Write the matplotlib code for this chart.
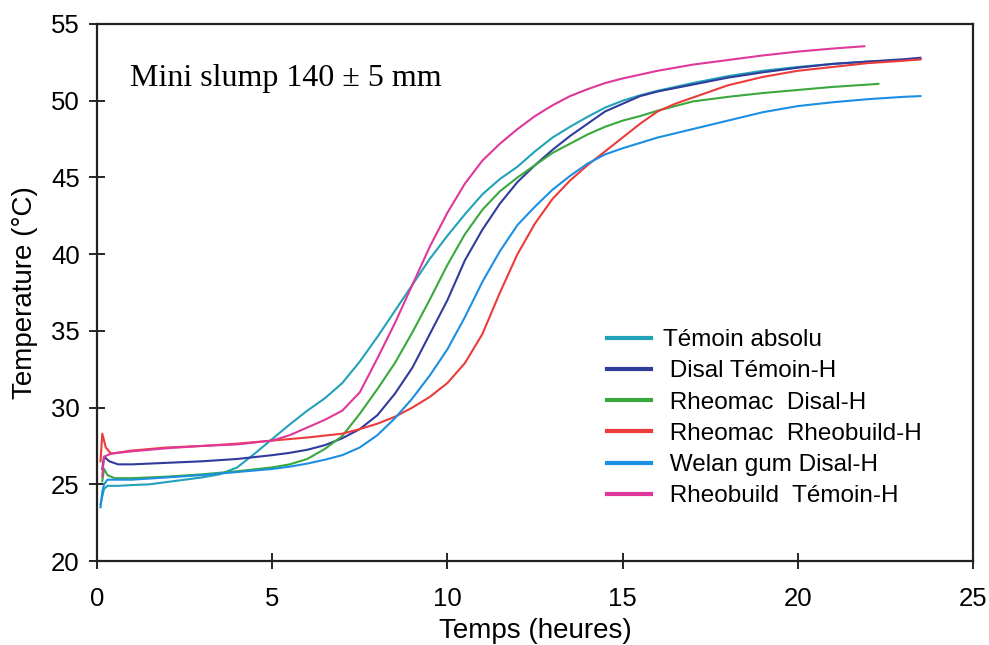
import matplotlib
matplotlib.use("Agg")
import matplotlib.pyplot as plt

plt.rcParams['font.family'] = ['Liberation Sans', 'DejaVu Sans']

# Hydration temperature curves (time in hours, temperature in °C)
t_temoin = [0.1, 0.2, 0.3, 0.6, 1.0, 1.5, 2.0, 2.5, 3.0, 3.5, 4.0, 4.5, 5.0, 5.5, 6.0, 6.5,
            7.0, 7.5, 8.0, 8.5, 9.0, 9.5, 10.0, 10.5, 11.0, 11.5, 12.0, 12.5, 13.0, 13.5,
            14.0, 14.5, 15.0, 15.5, 16.0, 17.0, 18.0, 19.0, 20.0, 21.0, 22.0, 23.0, 23.5]
T_temoin = [23.7, 24.7, 24.9, 24.9, 24.95, 25.0, 25.15, 25.3, 25.45, 25.65, 26.1, 27.0, 27.95,
            28.9, 29.8, 30.6, 31.6, 33.0, 34.6, 36.3, 38.0, 39.7, 41.2, 42.6, 43.9, 44.9,
            45.7, 46.7, 47.6, 48.3, 48.95, 49.55, 50.0, 50.35, 50.65, 51.15, 51.6, 51.95,
            52.2, 52.4, 52.55, 52.65, 52.7]

t_disal = [0.15, 0.2, 0.35, 0.6, 1.0, 2.0, 3.0, 4.0, 5.0, 5.5, 6.0, 6.5, 7.0, 7.5, 8.0, 8.5,
           9.0, 9.5, 10.0, 10.5, 11.0, 11.5, 12.0, 12.5, 13.0, 13.5, 14.0, 14.5, 15.0, 15.5,
           16.0, 17.0, 18.0, 19.0, 20.0, 21.0, 22.0, 23.0, 23.5]
T_disal = [26.0, 26.8, 26.5, 26.3, 26.3, 26.4, 26.5, 26.65, 26.9, 27.05, 27.25, 27.55, 28.0,
           28.6, 29.5, 30.9, 32.6, 34.8, 37.0, 39.6, 41.6, 43.3, 44.7, 45.8, 46.8, 47.7,
           48.5, 49.3, 49.8, 50.3, 50.6, 51.05, 51.5, 51.85, 52.15, 52.4, 52.55, 52.7, 52.8]

t_rheo_disal = [0.15, 0.2, 0.3, 0.5, 1.0, 2.0, 3.0, 4.0, 5.0, 5.5, 6.0, 6.5, 7.0, 7.5, 8.0,
                8.5, 9.0, 9.5, 10.0, 10.5, 11.0, 11.5, 12.0, 12.5, 13.0, 13.5, 14.0, 14.5,
                15.0, 15.5, 16.0, 17.0, 18.0, 19.0, 20.0, 21.0, 22.0, 22.3]
T_rheo_disal = [25.2, 26.0, 25.6, 25.4, 25.4, 25.5, 25.65, 25.85, 26.1, 26.3, 26.65, 27.3,
                28.15, 29.6, 31.2, 32.9, 34.9, 37.05, 39.3, 41.3, 42.9, 44.1, 45.0, 45.8,
                46.6, 47.2, 47.8, 48.3, 48.7, 49.0, 49.35, 49.95, 50.25, 50.5, 50.7, 50.9,
                51.05, 51.1]

t_rheo_rheob = [0.1, 0.15, 0.25, 0.4, 1.0, 2.0, 3.0, 4.0, 5.0, 6.0, 7.0, 7.5, 8.0, 8.5, 9.0,
                9.5, 10.0, 10.5, 11.0, 11.5, 12.0, 12.5, 13.0, 13.5, 14.0, 14.5, 15.0, 15.5,
                16.0, 16.5, 17.0, 18.0, 19.0, 20.0, 21.0, 22.0, 23.0, 23.5]
T_rheo_rheob = [26.5, 28.3, 27.4, 27.0, 27.2, 27.4, 27.5, 27.65, 27.85, 28.05, 28.3, 28.6,
                28.95, 29.4, 30.0, 30.7, 31.6, 32.9, 34.8, 37.5, 40.0, 42.0, 43.6, 44.8,
                45.8, 46.7, 47.6, 48.5, 49.3, 49.8, 50.2, 51.0, 51.55, 51.95, 52.2, 52.45,
                52.6, 52.7]

t_welan = [0.1, 0.15, 0.2, 0.3, 1.0, 2.0, 3.0, 4.0, 5.0, 5.5, 6.0, 6.5, 7.0, 7.5, 8.0, 8.5,
           9.0, 9.5, 10.0, 10.5, 11.0, 11.5, 12.0, 12.5, 13.0, 13.5, 14.0, 14.5, 15.0, 15.5,
           16.0, 17.0, 18.0, 19.0, 20.0, 21.0, 22.0, 23.0, 23.5]
T_welan = [23.5, 24.5, 25.0, 25.3, 25.3, 25.45, 25.6, 25.8, 26.0, 26.15, 26.35, 26.6, 26.9,
           27.4, 28.2, 29.3, 30.6, 32.1, 33.8, 35.9, 38.2, 40.2, 41.9, 43.1, 44.2, 45.1,
           45.9, 46.5, 46.9, 47.25, 47.6, 48.15, 48.7, 49.25, 49.65, 49.9, 50.1, 50.25, 50.3]

t_rheob_temoin = [0.15, 0.2, 0.4, 1.0, 2.0, 3.0, 4.0, 5.0, 5.5, 6.0, 6.5, 7.0, 7.5, 8.0, 8.5,
                  9.0, 9.5, 10.0, 10.5, 11.0, 11.5, 12.0, 12.5, 13.0, 13.5, 14.0, 14.5, 15.0,
                  15.5, 16.0, 17.0, 18.0, 19.0, 20.0, 21.0, 21.9]
T_rheob_temoin = [25.5, 26.8, 27.0, 27.15, 27.35, 27.5, 27.6, 27.85, 28.2, 28.7, 29.2, 29.8,
                  31.0, 33.2, 35.5, 38.0, 40.5, 42.7, 44.6, 46.1, 47.2, 48.15, 49.0, 49.7,
                  50.3, 50.75, 51.15, 51.45, 51.7, 51.95, 52.35, 52.65, 52.95, 53.2, 53.4, 53.55]

labels = ["Témoin absolu", " Disal Témoin-H", " Rheomac  Disal-H",
          " Rheomac  Rheobuild-H", " Welan gum Disal-H", " Rheobuild  Témoin-H"]
colors = ["#22a2b8", "#2f3c9c", "#3aa83c", "#ec3b3b", "#1b8fe2", "#e0389a"]

x_ticks = [0, 5, 10, 15, 20, 25]
y_ticks = [20, 25, 30, 35, 40, 45, 50, 55]

series = [(t_temoin, T_temoin), (t_disal, T_disal), (t_rheo_disal, T_rheo_disal),
          (t_rheo_rheob, T_rheo_rheob), (t_welan, T_welan), (t_rheob_temoin, T_rheob_temoin)]

fig = plt.figure(figsize=(9.89, 6.45), dpi=100)
ax = fig.add_axes([0.0981, 0.1302, 0.8857, 0.8326])

for (t, T), lab, c in zip(series, labels, colors):
    ax.plot(t, T, color=c, lw=1.5, label=lab)

ax.set_xlim(0, 25)
ax.set_ylim(20, 55)
ax.set_xticks(x_ticks)
ax.set_yticks(y_ticks)
ax.tick_params(axis='both', direction='inout', length=11, width=1.2, labelsize=18.5,
               top=False, right=False)
ax.tick_params(axis='x', pad=13)
ax.tick_params(axis='y', pad=7)
for sp in ax.spines.values():
    sp.set_linewidth(1.6)
    sp.set_color('#222222')

ax.set_xlabel("Temps (heures)", fontsize=20, labelpad=5)
ax.set_ylabel("Temperature (°C)", fontsize=20, labelpad=9)

ax.text(0.0377, 0.8845, "Mini slump 140 ± 5 mm", transform=ax.transAxes,
        fontsize=23, family=['Liberation Serif', 'DejaVu Serif'], va='baseline', ha='left')

leg = ax.legend(loc='upper left', bbox_to_anchor=(0.582, 0.432), frameon=False,
                fontsize=17.5, handlelength=1.8, handletextpad=0.5, labelspacing=0.38,
                borderpad=0, borderaxespad=0)
for h in leg.legend_handles:
    h.set_linewidth(3)

fig.savefig("out.png", dpi=100)
